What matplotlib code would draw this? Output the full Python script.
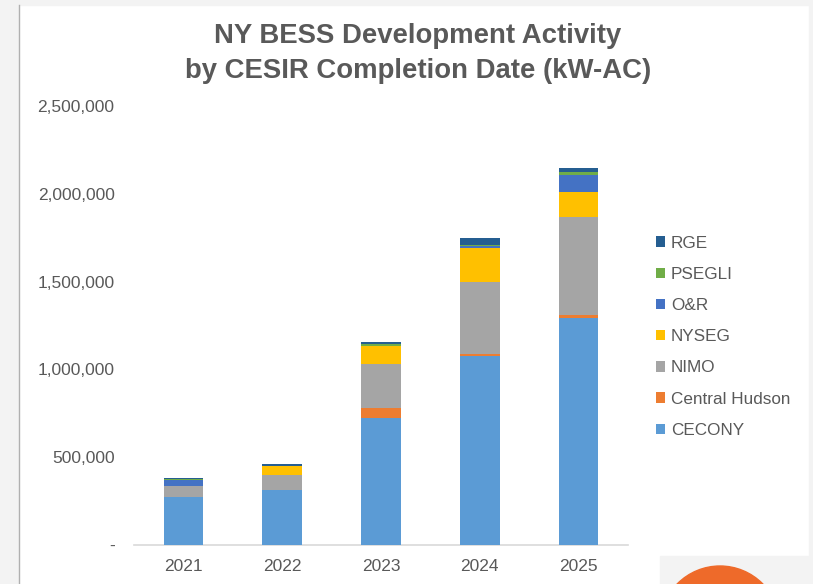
import matplotlib
matplotlib.use("Agg")
import matplotlib.pyplot as plt
from matplotlib.patches import Rectangle, Ellipse
import numpy as np

years = ["2021", "2022", "2023", "2024", "2025"]
series_names = ["CECONY", "Central Hudson", "NIMO", "NYSEG", "O&R", "PSEGLI", "RGE"]
cecony = [274000, 311000, 723000, 1074000, 1292000]
central_hudson = [0, 0, 57000, 15000, 15000]
nimo = [61000, 85000, 250000, 411000, 563000]
nyseg = [0, 53000, 102000, 193000, 142000]
o_r = [38000, 0, 4000, 11000, 97000]
psegli = [5000, 3000, 8000, 3000, 15000]
rge = [6000, 8000, 11000, 42000, 21000]
yticks = [0, 500000, 1000000, 1500000, 2000000, 2500000]
ytick_labels = ["-", "500,000", "1,000,000", "1,500,000", "2,000,000", "2,500,000"]

colors = ["#5B9BD5", "#ED7D31", "#A5A5A5", "#FFC000", "#4472C4", "#70AD47", "#255E91"]
series = [cecony, central_hudson, nimo, nyseg, o_r, psegli, rge]

plt.rcParams['font.family'] = ['Liberation Sans', 'DejaVu Sans']
W, H = 813, 584
fig = plt.figure(figsize=(W / 100, H / 100), dpi=100)
fig.patch.set_facecolor("white")

# screenshot frame
fig.patches.append(Rectangle((0, 0), 18 / W, 1, transform=fig.transFigure, color="#f3f3f3", zorder=0))
fig.patches.append(Rectangle((0, (H - 5) / H), 1, 5 / H, transform=fig.transFigure, color="#f3f3f3", zorder=0))
fig.patches.append(Rectangle((809 / W, 0), 4 / W, 1, transform=fig.transFigure, color="#f3f3f3", zorder=0))
fig.lines.append(plt.Line2D([18.5 / W, 18.5 / W], [0, (H - 5) / H], transform=fig.transFigure, color="#b0b0b0", lw=1))
fig.patches.append(Rectangle((660 / W, 0), (W - 660) / W, (H - 556) / H, transform=fig.transFigure, color="#f3f3f3", zorder=1))
fig.patches.append(Ellipse((720 / W, (H - 626) / H), 120 / W, 120 / H, transform=fig.transFigure, color="#EE6A2A", zorder=2))

ax = fig.add_axes([134 / W, 39 / H, (628 - 134) / W, (545 - 106) / H])
x = np.arange(len(years))
bottom = np.zeros(len(years))
handles = []
for name, vals, c in zip(series_names, series, colors):
    b = ax.bar(x, vals, 0.4, bottom=bottom, color=c, label=name, zorder=3)
    handles.append(b)
    bottom += np.array(vals)

ax.set_xlim(-0.5, 4.5)
ax.set_ylim(0, 2500000)
ax.set_yticks(yticks)
ax.set_yticklabels(ytick_labels)
ax.set_xticks(x)
ax.set_xticklabels(years)
for s in ["top", "right", "left"]:
    ax.spines[s].set_visible(False)
ax.spines["bottom"].set_color("#d9d9d9")
ax.spines["bottom"].set_linewidth(1.2)
ax.tick_params(axis="both", length=0, labelsize=12.5, colors="#595959")
ax.tick_params(axis="y", pad=14)
ax.tick_params(axis="x", pad=10)

leg = fig.legend(handles[::-1], series_names[::-1], loc="center left",
                 bbox_to_anchor=(647 / W, (H - 336.7) / H), frameon=False,
                 fontsize=12.3, handlelength=0.55, handleheight=0.55,
                 handletextpad=0.35, labelspacing=0.95, borderpad=0)
for t in leg.get_texts():
    t.set_color("#595959")

fig.text(418 / W, (H - 36) / H, "NY BESS Development Activity", ha="center", va="center",
         fontsize=19.8, fontweight="bold", color="#595959")
fig.text(418 / W, (H - 71) / H, "by CESIR Completion Date (kW-AC)", ha="center", va="center",
         fontsize=19.8, fontweight="bold", color="#595959")

fig.savefig("out.png", dpi=100)
